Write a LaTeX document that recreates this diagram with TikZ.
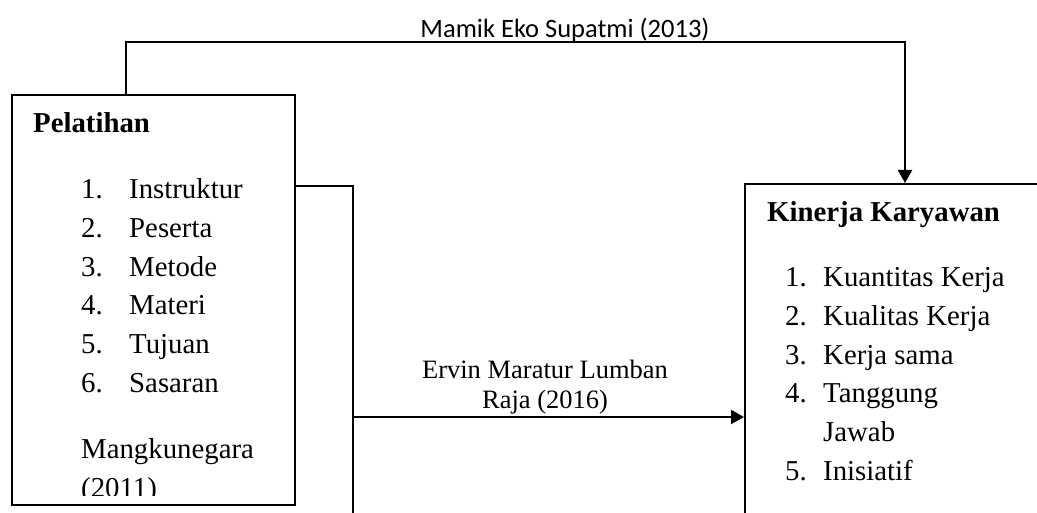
\documentclass[tikz,border=0pt]{standalone}
\usepackage{fontspec}
\setmainfont{Liberation Serif}
\newfontfamily\tnr{Liberation Serif}
\newfontfamily\calib{Carlito}
\usetikzlibrary{arrows.meta}
\begin{document}
\begin{tikzpicture}[x=1pt,y=-1pt,
  box/.style={draw,line width=2.2pt,rectangle,inner sep=0pt},
  conn/.style={line width=2.2pt},
  arr/.style={conn,-{Triangle[length=13pt,width=14pt]}},
  txt/.style={anchor=base west,inner sep=0pt,font=\tnr\fontsize{28.8}{36}\selectfont},
  head/.style={txt,font=\tnr\fontsize{28.8}{36}\selectfont\bfseries},
  lbl/.style={anchor=base,inner sep=0pt,font=\tnr\fontsize{26.5}{30}\selectfont},
  slbl/.style={anchor=base,inner sep=0pt,font=\calib\fontsize{26.5}{30}\selectfont}
]
\useasboundingbox (0,0) rectangle (1037,513);
\begin{scope}
\clip (0,0) rectangle (1037,513);
% boxes
\node[box,minimum width=283pt,minimum height=410pt] (pel) at (153.5,300) {};
\node[box,minimum width=330pt,minimum height=360pt,anchor=north west] (kin) at (744,183) {};

% connectors
\coordinate (topL) at (126,42);
\coordinate (topR) at (905,42);
\draw[arr] (pel.north -| topL) -- (topL) -- (topR) -- (kin.north -| topR);
\coordinate (bend) at (353,186);
\coordinate (vbot) at (353,520);
\draw[conn] (pel.east |- bend) -- (bend) -- (vbot);
\coordinate (split) at (353,417);
\draw[arr] (split) -- (kin.west |- split);

% labels
\node[slbl] (lab1) at (565,38) {Mamik Eko Supatmi (2013)};
\node[lbl] (lab2a) at (545,378) {Ervin Maratur Lumban};
\node[lbl] (lab2b) at (545,408) {Raja (2016)};

% left box contents
\node[head] (ph) at (33,133) {Pelatihan};
\node[txt] (pn1) at (81,199) {1.};  \node[txt] (pt1) at (129,199) {Instruktur};
\node[txt] (pn2) at (81,237.6) {2.};  \node[txt] (pt2) at (129,237.6) {Peserta};
\node[txt] (pn3) at (81,276.2) {3.};  \node[txt] (pt3) at (129,276.2) {Metode};
\node[txt] (pn4) at (81,314.8) {4.};  \node[txt] (pt4) at (129,314.8) {Materi};
\node[txt] (pn5) at (81,353.4) {5.};  \node[txt] (pt5) at (129,353.4) {Tujuan};
\node[txt] (pn6) at (81,392) {6.};  \node[txt] (pt6) at (129,392) {Sasaran};
\node[txt] (src1) at (81,458) {Mangkunegara};
\begin{scope}
\clip (14,97) rectangle (293,495);
\node[txt] (src2) at (81,497) {(2011)};
\end{scope}

% right box contents
\node[head] (kh) at (767,222) {Kinerja Karyawan};
\node[txt] (kn1) at (785,287) {1.};  \node[txt] (kt1) at (823,287) {Kuantitas Kerja};
\node[txt] (kn2) at (785,325.6) {2.};  \node[txt] (kt2) at (823,325.6) {Kualitas Kerja};
\node[txt] (kn3) at (785,364.2) {3.};  \node[txt] (kt3) at (823,364.2) {Kerja sama};
\node[txt] (kn4) at (785,402.8) {4.};  \node[txt] (kt4) at (823,402.8) {Tanggung};
\node[txt] (kt4b) at (823,441.4) {Jawab};
\node[txt] (kn5) at (785,480) {5.};  \node[txt] (kt5) at (823,480) {Inisiatif};
\end{scope}
\end{tikzpicture}
\end{document}
